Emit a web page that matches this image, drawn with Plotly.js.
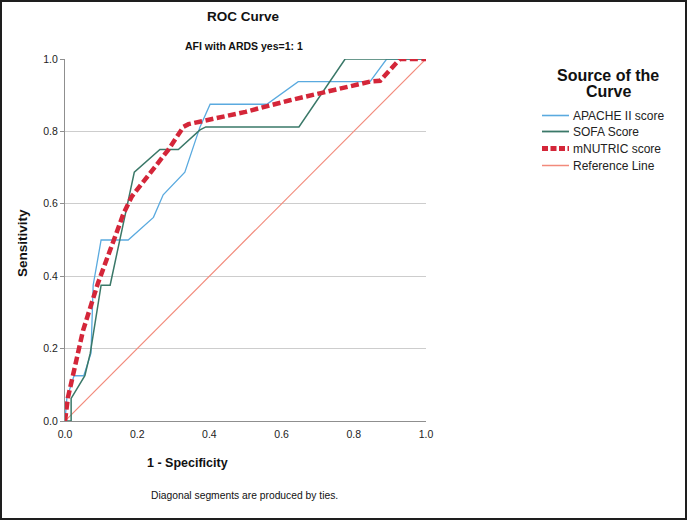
<!DOCTYPE html>
<html>
<head>
<meta charset="utf-8">
<script src="https://cdn.plot.ly/plotly-3.0.1.min.js"></script>
<style>html,body{margin:0;padding:0;background:#fff;}#chart{width:687px;height:520px;}</style>
</head>
<body>
<div id="chart"></div>
<script>
// ---- data ----
const seriesNames = ["APACHE II score", "SOFA Score", "mNUTRIC score", "Reference Line"];
const apacheX = [0, 0.005, 0.025, 0.052, 0.072, 0.078, 0.089, 0.10, 0.175, 0.245, 0.272, 0.332, 0.374, 0.402, 0.559, 0.646, 0.845, 0.891, 1.0];
const apacheY = [0, 0.0625, 0.125, 0.125, 0.1875, 0.375, 0.4375, 0.5, 0.5, 0.5625, 0.625, 0.6875, 0.8125, 0.875, 0.875, 0.9375, 0.9375, 1.0, 1.0];
const sofaX = [0, 0.017, 0.017, 0.055, 0.07, 0.10, 0.125, 0.192, 0.263, 0.314, 0.374, 0.39, 0.648, 0.776, 1.0];
const sofaY = [0, 0, 0.0625, 0.125, 0.1875, 0.375, 0.375, 0.6875, 0.75, 0.75, 0.804, 0.8125, 0.8125, 1.0, 1.0];
const mnutricX = [0, 0.008, 0.05, 0.091, 0.142, 0.162, 0.185, 0.286, 0.328, 0.342, 0.50, 0.623, 0.845, 0.873, 0.928, 1.0];
const mnutricY = [0, 0.064, 0.25, 0.38, 0.518, 0.573, 0.62, 0.749, 0.8125, 0.82, 0.854, 0.886, 0.9375, 0.94, 1.0, 1.0];
const refX = [0, 1];
const refY = [0, 1];
const tickVals = [0, 0.2, 0.4, 0.6, 0.8, 1.0];
const tickLabels = ["0.0", "0.2", "0.4", "0.6", "0.8", "1.0"];
const titleText = "ROC Curve";
const subtitleText = "AFI with ARDS yes=1: 1";
const xTitle = "1 - Specificity";
const yTitle = "Sensitivity";
const footnote = "Diagonal segments are produced by ties.";
const legendTitle = ["Source of the", "Curve"];

// ---- styles ----
const colors = ["#5aaadf", "#3a7868", "#d42639", "#f28a7b"];
const widths = [1.3, 1.5, 4.5, 1.2];
const dashes = ["solid", "solid", "8px,3.5px", "solid"];
const SANS = "Liberation Sans, Arial, sans-serif";

// plot area in pixels
const L = 65, R = 426, T = 59, B = 421, W = 687, H = 520;
const px = X => (X - L) / (R - L);
const py = Y => (B - Y) / (B - T);

const xs = [apacheX, sofaX, mnutricX, refX];
const ys = [apacheY, sofaY, mnutricY, refY];
const order = [3, 0, 1, 2];
const traces = order.map(i => ({
  x: xs[i], y: ys[i], name: seriesNames[i], type: "scatter", mode: "lines",
  line: {color: colors[i], width: widths[i], dash: dashes[i]},
  cliponaxis: false, hoverinfo: "skip"
}));

const ann = [];
const shapes = [];
ann.push({text: "<b>" + titleText + "</b>", x: px(243.5), y: py(17), font: {family: SANS, size: 13.5, color: "#111"}});
ann.push({text: "<b>" + subtitleText + "</b>", x: px(243.5), y: py(46), font: {family: SANS, size: 10.5, color: "#111"}});
ann.push({text: "<b>" + xTitle + "</b>", x: px(187), y: py(463), font: {family: SANS, size: 12.5, color: "#111"}});
ann.push({text: "<b>" + yTitle + "</b>", x: px(22), y: py(243), textangle: -90, font: {family: SANS, size: 13.5, color: "#111"}});
ann.push({text: footnote, x: px(244), y: py(495), font: {family: SANS, size: 10.3, color: "#111"}});
ann.push({text: "<b>" + legendTitle[0] + "</b>", x: px(608), y: py(75), font: {family: SANS, size: 16, color: "#111"}});
ann.push({text: "<b>" + legendTitle[1] + "</b>", x: px(608), y: py(91), font: {family: SANS, size: 16, color: "#111"}});
const legY = [116, 132, 149, 166];
seriesNames.forEach((n, i) => {
  ann.push({text: n, x: px(571), y: py(legY[i]), xanchor: "left", font: {family: SANS, size: 12, color: "#222"}});
  shapes.push({type: "line", xref: "paper", yref: "paper", x0: px(542), x1: px(569), y0: py(legY[i] - 0.5), y1: py(legY[i] - 0.5),
    line: {color: colors[i], width: Math.min(widths[i] + 0.3, 5), dash: dashes[i] === "solid" ? "solid" : "6px,2.5px"}});
});
ann.forEach(a => { a.xref = "paper"; a.yref = "paper"; a.showarrow = false; if (!a.xanchor) a.xanchor = "center"; a.yanchor = "middle"; });
// outer frame
shapes.push({type: "rect", xref: "paper", yref: "paper", x0: px(1), x1: px(686), y0: py(519), y1: py(1), line: {color: "#1e1e1e", width: 2}, fillcolor: "rgba(0,0,0,0)", layer: "above"});

const layout = {
  width: W, height: H,
  margin: {l: L, r: W - R, t: T, b: H - B, pad: 0},
  paper_bgcolor: "#ffffff", plot_bgcolor: "#ffffff",
  showlegend: false,
  font: {family: SANS, size: 10, color: "#222"},
  xaxis: {range: [0, 1], tickvals: tickVals, ticktext: tickLabels, showgrid: false, zeroline: false,
    showline: true, linecolor: "#8f8f8f", linewidth: 1, ticks: "outside", ticklen: 3, tickcolor: "rgba(0,0,0,0)",
    tickfont: {family: SANS, size: 10.5, color: "#222"}, fixedrange: true},
  yaxis: {range: [0, 1], tickvals: tickVals, ticktext: tickLabels, showgrid: true, gridcolor: "#cdcdcd", gridwidth: 1,
    zeroline: false, showline: true, linecolor: "#8f8f8f", linewidth: 1, ticks: "outside", ticklen: 4, tickcolor: "#8f8f8f",
    tickfont: {family: SANS, size: 10.5, color: "#222"}, fixedrange: true},
  annotations: ann,
  shapes: shapes
};
Plotly.newPlot("chart", traces, layout, {displayModeBar: false, staticPlot: true});
</script>
</body>
</html>
